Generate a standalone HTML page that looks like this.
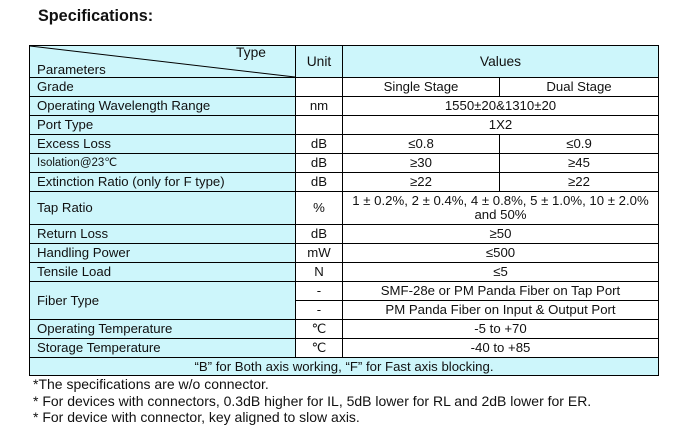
<!DOCTYPE html>
<html><head><meta charset="utf-8"><style>
body{margin:0;width:676px;height:430px;background:#fff;position:relative;font-family:"Liberation Sans",Arial,sans-serif;color:#111;overflow:hidden}
.t{position:absolute;font-size:13.3px;white-space:nowrap;line-height:14px}
.c{position:absolute;box-sizing:border-box;border:1px solid #000;font-size:13.2px;display:flex;align-items:center;justify-content:center;text-align:center;line-height:14px;margin:0}
.p{justify-content:flex-start;padding-left:7px;background:#cdf6fb}
</style></head><body>
<div class="t" style="left:38px;top:7px;font-size:16.2px;font-weight:bold;line-height:18px">Specifications:</div>
<div id="tb"></div>
<svg style="position:absolute;left:0;top:0" width="676" height="430"><line x1="30" y1="46" x2="295" y2="77" stroke="#000" stroke-width="1"/></svg>
<script>
var L=29,U=295,V=342,S=499,R=658;
var rows=[
[45,77,null,'Unit','Values',null,'h'],
[77,96,'Grade','','Single Stage','Dual Stage'],
[96,115,'Operating Wavelength Range','nm','1550±20&amp;1310±20',null],
[115,134,'Port Type','','1X2',null],
[134,153,'Excess Loss','dB','≤0.8','≤0.9'],
[153,172,'<span style="font-size:11.5px">Isolation@23℃</span>','dB','≥30','≥45'],
[172,191,'Extinction Ratio (only for F type)','dB','≥22','≥22'],
[191,224,'Tap Ratio','%','1 ± 0.2%, 2 ± 0.4%, 4 ± 0.8%, 5 ± 1.0%, 10 ± 2.0%<br>and 50%',null],
[224,243,'Return Loss','dB','≥50',null],
[243,262,'Handling Power','mW','≤500',null],
[262,281,'Tensile Load','N','≤5',null],
[281,300,'Fiber Type','-','SMF-28e or PM Panda Fiber on Tap Port',null,'f'],
[300,319,null,'-','PM Panda Fiber on Input &amp; Output Port',null],
[319,338,'Operating Temperature','℃','-5 to +70',null],
[338,357,'Storage Temperature','℃','-40 to +85',null]];
var h='';
function c(x1,y1,x2,y2,txt,cls,st){h+='<div class="c '+(cls||'')+'" style="left:'+x1+'px;top:'+y1+'px;width:'+(x2-x1+1)+'px;height:'+(y2-y1+1)+'px;'+(st||'')+'">'+txt+'</div>';}
rows.forEach(function(r){
 var y1=r[0],y2=r[1];
 if(r[6]=='h'){c(L,y1,U,y2,'','p');c(U,y1,V,y2,'Unit','','background:#cdf6fb;font-size:13.8px');c(V,y1,R,y2,'Values','','background:#cdf6fb;font-size:13.8px');return;}
 if(r[6]=='f'){c(L,y1,U,319,'Fiber Type','p');}
 else if(r[2]!==null)c(L,y1,U,y2,r[2],'p');
 c(U,y1,V,y2,r[3]);
 if(r[5]===null)c(V,y1,R,y2,r[4]);else{c(V,y1,S,y2,r[4]);c(S,y1,R,y2,r[5]);}
});
c(L,357,R,375,'“B” for Both axis working, “F” for Fast axis blocking.','','background:#cdf6fb');
document.getElementById('tb').innerHTML=h;
</script>
<div class="t" style="left:236px;top:46px;font-size:13.8px">Type</div>
<div class="t" style="left:37px;top:63px">Parameters</div>
<div class="t" style="left:33px;top:377px;font-size:14px">*The specifications are w/o connector.</div>
<div class="t" style="left:33px;top:394px;font-size:14px">* For devices with connectors, 0.3dB higher for IL, 5dB lower for RL and 2dB lower for ER.</div>
<div class="t" style="left:33px;top:410px;font-size:14px">* For device with connector, key aligned to slow axis.</div>
</body></html>
